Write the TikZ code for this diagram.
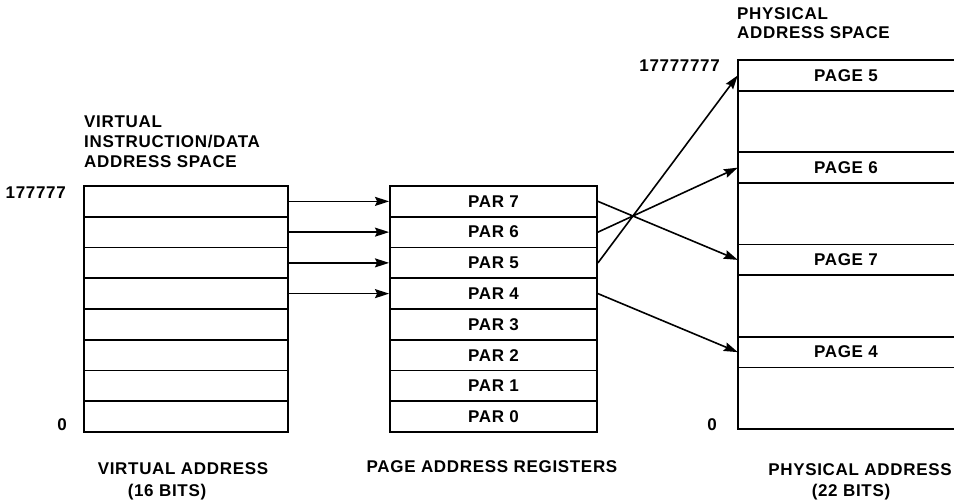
\documentclass[tikz,border=0pt]{standalone}
\usepackage{fontspec}
\setmainfont{Liberation Sans}[LetterSpace=4]
\usetikzlibrary{arrows.meta}
\newcommand\lbfont{\fontsize{17}{20}\selectfont\bfseries}
\tikzset{
  cell/.style={draw, line width=1.9pt, rectangle, minimum height=30.75pt, inner sep=0pt, font=\lbfont},
  pagecell/.style={rectangle, minimum height=30.75pt, minimum width=216pt, inner sep=0pt, font=\lbfont},
  lbl/.style={inner sep=0pt, font=\lbfont},
  arr/.style={line width=1.6pt, -{Stealth[length=14pt,width=9pt,inset=2pt]}},
  frame/.style={line width=1.9pt},
}
\begin{document}
\begin{tikzpicture}[x=1pt,y=-1pt]
\useasboundingbox (0,0) rectangle (954,501);
\fill[white] (0,0) rectangle (954,501);

% left: virtual address space
\foreach \i in {0,...,7}
  \node[cell, minimum width=204pt] (v\i) at (186, 186+30.75*\i+15.375) {};

% middle: page address registers
\foreach \i/\n in {0/7,1/6,2/5,3/4,4/3,5/2,6/1,7/0}
  \node[cell, minimum width=207pt] (r\n) at (493.5, 186+30.75*\i+15.375) {PAR \n};

% right: physical address space
\draw[frame] (954,60) -- (738,60) -- (738,429) -- (954,429);
\foreach \k in {1,3,4,6,7,9,10}
  \draw[frame] (738,60+30.75*\k) -- (954,60+30.75*\k);
\node[pagecell] (p5) at (846, 60+30.75*0.5) {PAGE 5};
\node[pagecell] (p6) at (846, 60+30.75*3.5) {PAGE 6};
\node[pagecell] (p7) at (846, 60+30.75*6.5) {PAGE 7};
\node[pagecell] (p4) at (846, 60+30.75*9.5) {PAGE 4};

% arrows virtual -> PAR
\draw[arr] (v0.east) -- (r7.west);
\draw[arr] (v1.east) -- (r6.west);
\draw[arr] (v2.east) -- (r5.west);
\draw[arr] (v3.east) -- (r4.west);

% arrows PAR -> pages
\draw[arr] (r7.east) -- (p7.west);
\draw[arr] (r6.east) -- (p6.west);
\draw[arr] (r5.east) -- (p5.west);
\draw[arr] (r4.east) -- (p4.west);

% labels
\node[lbl, anchor=west] (h1) at (84,121.5) {VIRTUAL};
\node[lbl, anchor=west] (h2) at (84,141.5) {INSTRUCTION/DATA};
\node[lbl, anchor=west] (h3) at (84,161.5) {ADDRESS SPACE};
\node[lbl, anchor=west] (ph1) at (737,14) {PHYSICAL};
\node[lbl, anchor=west] (ph2) at (737,33) {ADDRESS SPACE};

\node[lbl, anchor=east] (top1) at (66,193) {177777};
\node[lbl] (zero1) at (62,425) {0};
\node[lbl, anchor=east] (top2) at (720,66) {17777777};
\node[lbl] (zero2) at (712,425) {0};

\node[lbl] (b1) at (183,469) {VIRTUAL ADDRESS};
\node[lbl] (b2) at (167,492) {(16 BITS)};
\node[lbl] (b3) at (492,467) {PAGE ADDRESS REGISTERS};
\node[lbl] (b4) at (860,470) {PHYSICAL ADDRESS};
\node[lbl] (b5) at (851,492) {(22 BITS)};
\end{tikzpicture}
\end{document}
